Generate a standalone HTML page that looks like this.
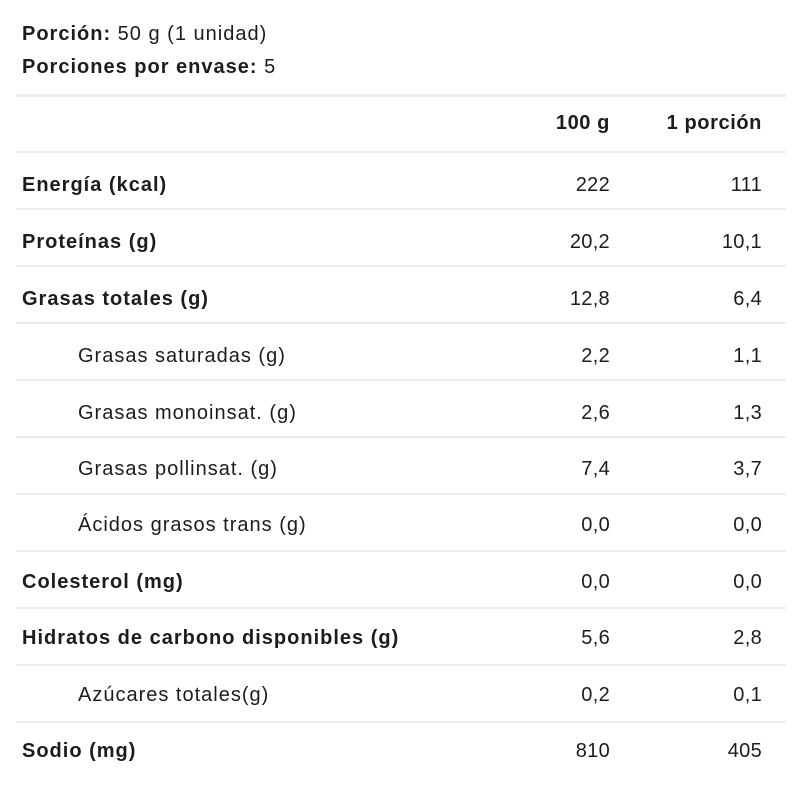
<!DOCTYPE html>
<html><head><meta charset="utf-8"><style>
body{margin:0;background:#fff;width:800px;height:800px;position:relative;overflow:hidden;font-family:"Liberation Sans",sans-serif;color:#1c1c1c;font-size:20px;letter-spacing:1px}
.t{position:absolute;line-height:24px;white-space:nowrap}
.b{font-weight:bold}
.l{position:absolute;left:16px;width:770px;height:2px;background:#ececec}
.r1{position:absolute;right:190px;text-align:right;letter-spacing:0.3px}
.r2{position:absolute;right:38px;text-align:right;letter-spacing:0.3px}
.b.r1,.b.r2{letter-spacing:0.6px}
</style></head><body>
<div class="t" style="left:22px;top:22px"><b>Porción:</b> 50 g (1 unidad)</div>
<div class="t" style="left:22px;top:55px"><b>Porciones por envase:</b> 5</div>
<div class="l" style="top:94px;height:3px"></div>
<div class="t b r1" style="top:111px">100 g</div>
<div class="t b r2" style="top:111px">1 porción</div>
<div class="l" style="top:151px"></div>

<div class="t b" style="left:22px;top:173px">Energía (kcal)</div><div class="t r1" style="top:173px">222</div><div class="t r2" style="top:173px">111</div>
<div class="l" style="top:208px"></div>
<div class="t b" style="left:22px;top:230px">Proteínas (g)</div><div class="t r1" style="top:230px">20,2</div><div class="t r2" style="top:230px">10,1</div>
<div class="l" style="top:265px"></div>
<div class="t b" style="left:22px;top:287px">Grasas totales (g)</div><div class="t r1" style="top:287px">12,8</div><div class="t r2" style="top:287px">6,4</div>
<div class="l" style="top:322px"></div>
<div class="t" style="left:78px;top:344px">Grasas saturadas (g)</div><div class="t r1" style="top:344px">2,2</div><div class="t r2" style="top:344px">1,1</div>
<div class="l" style="top:379px"></div>
<div class="t" style="left:78px;top:401px">Grasas monoinsat. (g)</div><div class="t r1" style="top:401px">2,6</div><div class="t r2" style="top:401px">1,3</div>
<div class="l" style="top:436px"></div>
<div class="t" style="left:78px;top:457px">Grasas pollinsat. (g)</div><div class="t r1" style="top:457px">7,4</div><div class="t r2" style="top:457px">3,7</div>
<div class="l" style="top:493px"></div>
<div class="t" style="left:78px;top:513px">Ácidos grasos trans (g)</div><div class="t r1" style="top:513px">0,0</div><div class="t r2" style="top:513px">0,0</div>
<div class="l" style="top:550px"></div>
<div class="t b" style="left:22px;top:570px">Colesterol (mg)</div><div class="t r1" style="top:570px">0,0</div><div class="t r2" style="top:570px">0,0</div>
<div class="l" style="top:607px"></div>
<div class="t b" style="left:22px;top:626px">Hidratos de carbono disponibles (g)</div><div class="t r1" style="top:626px">5,6</div><div class="t r2" style="top:626px">2,8</div>
<div class="l" style="top:664px"></div>
<div class="t" style="left:78px;top:683px">Azúcares totales(g)</div><div class="t r1" style="top:683px">0,2</div><div class="t r2" style="top:683px">0,1</div>
<div class="l" style="top:721px"></div>
<div class="t b" style="left:22px;top:739px">Sodio (mg)</div><div class="t r1" style="top:739px">810</div><div class="t r2" style="top:739px">405</div>
</body></html>
